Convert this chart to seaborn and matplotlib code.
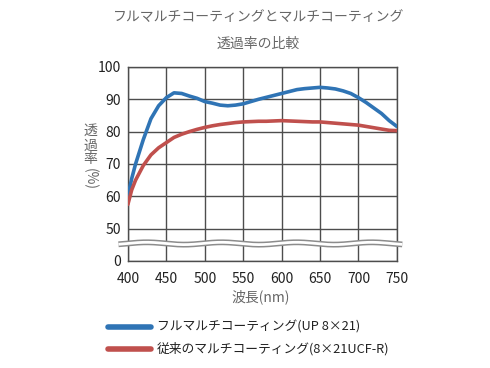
import numpy as np
import pandas as pd
import matplotlib
matplotlib.use("Agg")
import matplotlib.pyplot as plt
import seaborn as sns

# wavelength (nm)
wavelength = [400, 405, 410, 420, 430, 440, 450, 460, 470, 480, 490, 500, 510, 520,
              530, 540, 550, 560, 570, 580, 590, 600, 610, 620, 630, 640, 650, 660,
              670, 680, 690, 700, 710, 720, 730, 740, 750]
# transmittance (%) - full multi coating (UP 8x21)
full_multi = [60.0, 65.5, 70.0, 77.5, 84.0, 88.0, 90.5, 92.0, 91.8, 91.0, 90.3, 89.3, 88.8, 88.2,
              88.0, 88.2, 88.6, 89.3, 90.0, 90.6, 91.2, 91.8, 92.4, 93.0, 93.3, 93.5, 93.7, 93.5,
              93.2, 92.6, 91.8, 90.5, 89.0, 87.3, 85.6, 83.4, 81.6]
# transmittance (%) - conventional multi coating (8x21UCF-R)
conv_multi = [57.5, 62.0, 65.0, 69.5, 72.8, 75.0, 76.6, 78.2, 79.2, 80.0, 80.7, 81.3, 81.8, 82.2,
              82.5, 82.8, 83.0, 83.1, 83.2, 83.2, 83.3, 83.4, 83.3, 83.2, 83.1, 83.0, 83.0, 82.8,
              82.6, 82.4, 82.2, 82.0, 81.6, 81.2, 80.8, 80.4, 80.3]

labels = ["フルマルチコーティング(UP 8×21)", "従来のマルチコーティング(8×21UCF-R)"]
colors = ["#2f74b5", "#c0504d"]

# y-axis is broken: 0 is drawn one grid step below 50
y_ticks = [40, 50, 60, 70, 80, 90, 100]
y_tick_labels = ["0", "50", "60", "70", "80", "90", "100"]
x_ticks = [400, 450, 500, 550, 600, 650, 700, 750]

df = pd.DataFrame({"wavelength": wavelength * 2,
                   "value": full_multi + conv_multi,
                   "series": [labels[0]] * len(wavelength) + [labels[1]] * len(wavelength)})

sns.set_style("white")
plt.rcParams['font.family'] = ['Noto Sans CJK JP', 'DejaVu Sans']

fig = plt.figure(figsize=(4.9, 3.68), dpi=100)
ax = fig.add_axes([0.261, 0.291, 0.549, 0.527])

sns.lineplot(data=df, x="wavelength", y="value", hue="series", palette=colors,
             linewidth=2.6, ax=ax, legend=False, zorder=3)

ax.set_xlim(400, 750)
ax.set_ylim(40, 100)
ax.set_xticks(x_ticks)
ax.set_yticks(y_ticks)
ax.set_yticklabels(y_tick_labels)
ax.tick_params(length=0, labelsize=10, labelcolor="#222222")
ax.tick_params(axis="y", pad=5)
ax.tick_params(axis="x", pad=8)
ax.grid(True, color="#4d4d4d", linewidth=1.0, zorder=1)
for s in ax.spines.values():
    s.set_color("#4d4d4d")
    s.set_linewidth(1.0)
ax.set_xlabel("")
ax.set_ylabel("")

# axis break wave
wx = np.linspace(-0.035, 1.02, 400)
wy = 0.09 + 0.006 * np.sin(2 * np.pi * wx * 269 / 75)
ax.plot(wx, wy, transform=ax.transAxes, color="#8c8c8c", lw=4.2, clip_on=False, zorder=4,
        solid_capstyle="butt")
ax.plot(wx, wy, transform=ax.transAxes, color="white", lw=2.0, clip_on=False, zorder=5,
        solid_capstyle="butt")

fig.text(0.527, 0.955, "フルマルチコーティングとマルチコーティング", ha="center", va="center",
         fontsize=10, color="#666666")
fig.text(0.527, 0.882, "透過率の比較", ha="center", va="center", fontsize=10, color="#666666")
fig.text(0.531, 0.193, "波長(nm)", ha="center", va="center", fontsize=10, color="#666666")

# vertical y label
for ch, yy in zip(["透", "過", "率"], [0.644, 0.604, 0.567]):
    fig.text(0.184, yy, ch, ha="center", va="center", fontsize=10, color="#666666")
fig.text(0.184, 0.513, "(%)", ha="center", va="center", fontsize=10, color="#666666",
         rotation=270)

# legend
for lab, col, yy in zip(labels, colors, [0.111, 0.052]):
    fig.add_artist(plt.Line2D([0.22, 0.308], [yy, yy], color=col, lw=4, transform=fig.transFigure))
    fig.text(0.320, yy, lab, ha="left", va="center", fontsize=9.2, color="#222222")

fig.savefig("out.png", dpi=100)
